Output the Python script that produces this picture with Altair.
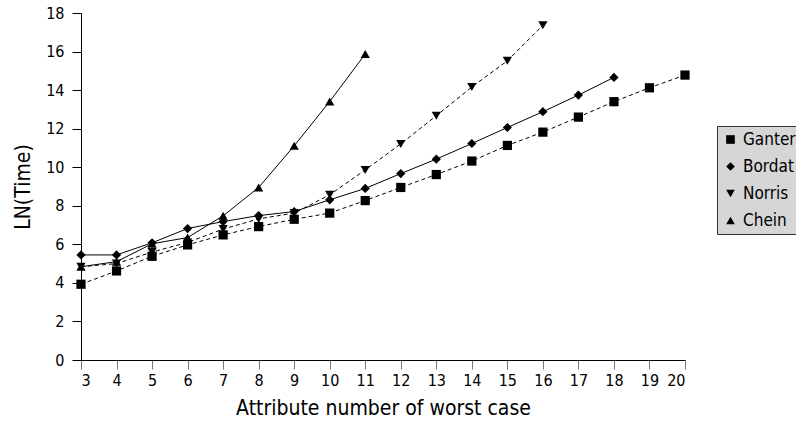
import altair as alt
import pandas as pd

series_names = ["Ganter", "Bordat", "Norris", "Chein"]
dashed_series = ["Ganter", "Norris"]

ganter_x = list(range(3, 21))
ganter_y = [3.93, 4.62, 5.38, 5.97, 6.49, 6.92, 7.30, 7.62, 8.27, 8.95, 9.62, 10.32, 11.13, 11.82, 12.60, 13.40, 14.12, 14.78]

bordat_x = list(range(3, 19))
bordat_y = [5.45, 5.45, 6.08, 6.82, 7.18, 7.49, 7.70, 8.31, 8.90, 9.67, 10.42, 11.23, 12.06, 12.88, 13.74, 14.66]

norris_x = list(range(3, 17))
norris_y = [4.84, 5.00, 5.60, 6.10, 6.79, 7.32, 7.62, 8.57, 9.86, 11.21, 12.67, 14.16, 15.52, 17.36]

chein_x = list(range(3, 12))
chein_y = [4.84, 5.10, 6.03, 6.35, 7.48, 8.95, 11.11, 13.41, 15.87]

x_ticks = list(range(3, 21))
y_ticks = list(range(0, 19, 2))

rows = []
for name, xs, ys in [("Ganter", ganter_x, ganter_y), ("Bordat", bordat_x, bordat_y),
                     ("Norris", norris_x, norris_y), ("Chein", chein_x, chein_y)]:
    for xv, yv in zip(xs, ys):
        rows.append({"series": name, "dashed": name in dashed_series, "x": xv, "y": yv})
df = pd.DataFrame(rows)

FONT = "DejaVu Sans Condensed"

x_enc = alt.X("x:Q", scale=alt.Scale(domain=[3, 20], nice=False, zero=False),
              axis=alt.Axis(values=x_ticks, title="Attribute number of worst case", grid=False,
                            domainColor="black", tickColor="#777777", tickSize=9,
                            labelFontSize=16, labelFont=FONT, labelColor="black", labelPadding=3,
                            titleFontSize=21, titleFont=FONT, titleFontWeight="normal",
                            titleColor="black", titlePadding=9))
y_enc = alt.Y("y:Q", scale=alt.Scale(domain=[0, 18], nice=False),
              axis=alt.Axis(values=y_ticks, title="LN(Time)", grid=False,
                            domainColor="black", tickColor="black", tickSize=9,
                            labelFontSize=16, labelFont=FONT, labelColor="black", labelPadding=8,
                            titleFontSize=21, titleFont=FONT, titleFontWeight="normal",
                            titleColor="black", titlePadding=12))

base = alt.Chart(df)

dashed_lines = base.transform_filter(alt.datum.dashed == True).mark_line(
    color="black", strokeWidth=1, strokeDash=[4, 3]).encode(x=x_enc, y=y_enc, detail="series:N")
solid_lines = base.transform_filter(alt.datum.dashed == False).mark_line(
    color="black", strokeWidth=1).encode(x=x_enc, y=y_enc, detail="series:N")

points = base.mark_point(filled=True, color="black", opacity=1, size=85).encode(
    x=x_enc, y=y_enc,
    shape=alt.Shape("series:N",
                    scale=alt.Scale(domain=series_names,
                                    range=["square", "diamond", "triangle-down", "triangle-up"]),
                    legend=alt.Legend(title=None, orient="none", legendX=636, legendY=113,
                                      fillColor="#d6d6d6", strokeColor="#333333",
                                      padding=5, labelFontSize=17, labelFont=FONT,
                                      labelColor="black", symbolSize=75,
                                      symbolFillColor="black", symbolStrokeColor="black",
                                      rowPadding=9, labelOffset=4)),
)

chart = alt.layer(dashed_lines, solid_lines, points).properties(
    width=604, height=347,
    background="white",
    autosize=alt.AutoSizeParams(type="none"),
    padding={"left": 81, "top": 13, "right": 111, "bottom": 83},
).configure_view(stroke=None)

chart.save("out.html", embed_options={"renderer": "svg", "actions": False})
